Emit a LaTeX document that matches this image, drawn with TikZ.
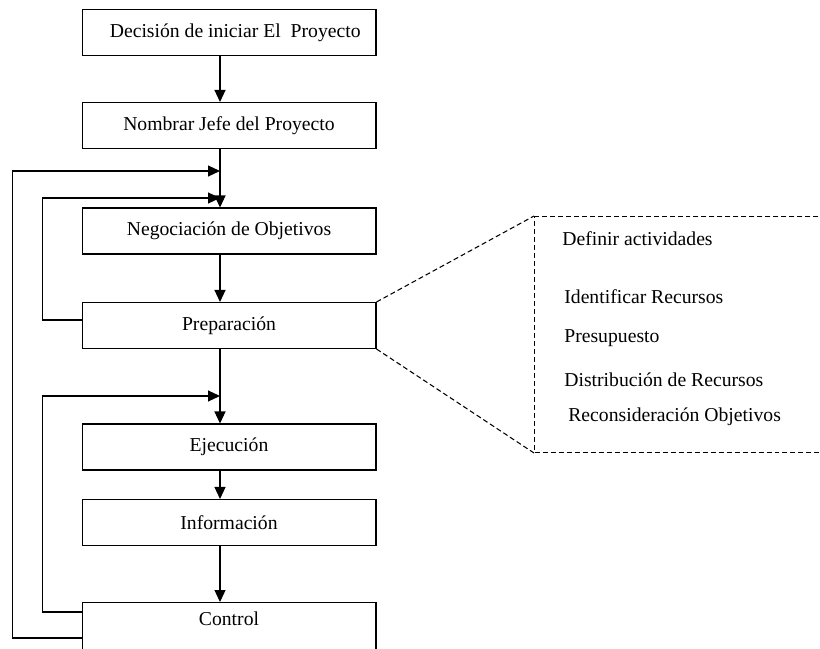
\documentclass[tikz,border=0pt]{standalone}
\usepackage{fontspec}
\setmainfont{Liberation Serif}
\usetikzlibrary{arrows.meta}
\begin{document}
\begin{tikzpicture}[x=0.02cm,y=-0.02cm,
	paso/.style={draw,line width=0.6pt,minimum width=5.88cm,minimum height=0.92cm,font=\fontsize{11.2}{13}\selectfont},
	flecha/.style={line width=0.7pt,-{Triangle[length=0.24cm,width=0.22cm]}},
	linea/.style={line width=0.6pt},
	tarea/.style={anchor=west,inner sep=0pt,font=\fontsize{11.2}{13}\selectfont}]
	\useasboundingbox (0,0) rectangle (820,648);
	% main chain of steps
	\node[paso] (dec) at (229,32.5) {\hspace{0.25cm}Decisión de iniciar El\ \ Proyecto};
	\node[paso] (nom) at (229,125.5) {Nombrar Jefe del Proyecto};
	\node[paso] (neg) at (229,231) {Negociación de Objetivos};
	\node[paso] (prep) at (229,325.5) {Preparación};
	\node[paso] (eje) at (229,447) {Ejecución};
	\node[paso] (inf) at (229,522.5) {Información};
	\node[paso,minimum height=1.1cm,text depth=13pt,anchor=north] (ctl) at (229,602) {Control};
	% joints on the main line
	\coordinate (j1) at (220,171);
	\coordinate (j2) at (220,198);
	\coordinate (j3) at (220,396);
	\draw[flecha] (dec.south -| j1) -- (nom.north -| j1);
	\draw[flecha] (nom.south -| j1) -- (neg.north -| j1);
	\draw[flecha] (neg.south -| j1) -- (prep.north -| j1);
	\draw[flecha] (prep.south -| j1) -- (eje.north -| j1);
	\draw[flecha] (eje.south -| j1) -- (inf.north -| j1);
	\draw[flecha] (inf.south -| j1) -- (ctl.north -| j1);
	% feedback loops
	\draw[flecha] ([yshift=-0.72cm]ctl.north west) -- ++(-69,0) |- (j1);
	\draw[flecha] ([yshift=0.11cm]prep.west) -- ++(-39,0) |- (j2);
	\draw[flecha] ([yshift=-0.2cm]ctl.north west) -- ++(-39,0) |- (j3);
	% detail of the preparation
	\node[draw,linea,dash pattern=on 0.1cm off 0.06cm,anchor=north west,minimum width=6cm,minimum height=4.72cm] (det) at (534,216) {};
	\draw[linea,dash pattern=on 0.1cm off 0.06cm] (prep.north east) -- (det.north west);
	\draw[linea,dash pattern=on 0.1cm off 0.06cm] (prep.south east) -- (det.south west);
	\node[tarea] (t1) at (562,239) {Definir actividades};
	\node[tarea] (t2) at (564,297) {Identificar Recursos};
	\node[tarea] (t3) at (564,338) {Presupuesto};
	\node[tarea] (t4) at (564,380) {Distribución de Recursos};
	\node[tarea] (t5) at (568,417) {Reconsideración Objetivos};
\end{tikzpicture}
\end{document}
